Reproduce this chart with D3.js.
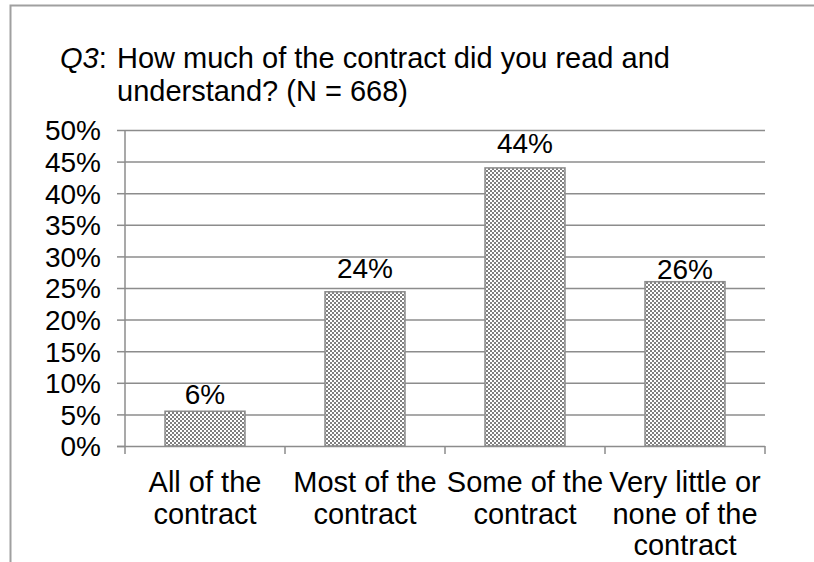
<!DOCTYPE html>
<html><head><meta charset="utf-8">
<script src="https://cdn.jsdelivr.net/npm/d3@7"></script>
<style>body{margin:0;background:#fff}svg{display:block;font-family:"Liberation Sans",Arial,sans-serif}</style>
</head><body><svg id="c" width="814" height="562"></svg>
<script>
const categories = [["All of the","contract"],["Most of the","contract"],["Some of the","contract"],["Very little or","none of the","contract"]];
const values = [5.5, 24.4, 44.0, 26.0];
const valueLabels = ["6%","24%","44%","26%"];
const yTicks = [0,5,10,15,20,25,30,35,40,45,50];

const labelDy = [7, 14, 15, 3]; // styling: gap between bar top and label baseline

const svg = d3.select("#c");
const defs = svg.append("defs");
const pat = defs.append("pattern").attr("id","chk").attr("width",4).attr("height",4).attr("patternUnits","userSpaceOnUse");
pat.append("rect").attr("width",4).attr("height",4).attr("fill","#fff");
pat.append("rect").attr("width",2).attr("height",2).attr("fill","#7f7f7f");
pat.append("rect").attr("x",2).attr("y",2).attr("width",2).attr("height",2).attr("fill","#7f7f7f");

// outer frame
svg.append("path").attr("d","M10.5,600 L10.5,5.5 L830,5.5").attr("fill","none").attr("stroke","#a0a0a0").attr("stroke-width",2);

const x0 = 125, x1 = 765, yTop = 130, yBot = 446;
const x = d3.scaleBand().domain(d3.range(categories.length)).range([x0,x1]).paddingInner(0.5).paddingOuter(0.25);
const y = d3.scaleLinear().domain([0,50]).range([yBot,yTop]);

// title
const t = svg.append("text").attr("font-size",29).attr("fill","#000");
t.append("tspan").attr("x",60).attr("y",68).attr("font-style","italic").text("Q3");
t.append("tspan").text(":");
t.append("tspan").attr("x",117).text("How much of the contract did you read and");
svg.append("text").attr("font-size",29).attr("x",117).attr("y",101).text("understand? (N = 668)");

// gridlines
svg.append("g").selectAll("line").data(yTicks.filter(d=>d>0)).join("line")
  .attr("x1",x0).attr("x2",x1).attr("y1",d=>y(d)+0.5).attr("y2",d=>y(d)+0.5)
  .attr("stroke","#8c8c8c").attr("stroke-width",1.5);

// y axis
const ya = svg.append("g").attr("transform",`translate(${x0},0)`)
  .call(d3.axisLeft(y).tickValues(yTicks).tickFormat(d=>d+"%").tickSize(8).tickPadding(16));
ya.select(".domain").attr("stroke","#8c8c8c").attr("stroke-width",1.5).attr("d",`M0,${yTop}V${yBot}`);
ya.selectAll(".tick line").attr("stroke","#8c8c8c").attr("stroke-width",1.5);
ya.selectAll(".tick text").attr("font-size",28).attr("fill","#000").attr("font-family","Liberation Sans, Arial, sans-serif").attr("dy","0.35em");

// bars
svg.append("g").selectAll("rect").data(values).join("rect")
  .attr("x",(d,i)=>x(i)).attr("width",x.bandwidth())
  .attr("y",d=>y(d)).attr("height",d=>yBot-y(d))
  .attr("fill","url(#chk)").attr("stroke","#8c8c8c").attr("stroke-width",1.5);

// x axis
const xb = svg.append("g");
xb.append("line").attr("x1",x0-8).attr("x2",x1).attr("y1",yBot+0.5).attr("y2",yBot+0.5).attr("stroke","#8c8c8c").attr("stroke-width",1.5);
const step = x.step();
xb.selectAll("line.tk").data(d3.range(categories.length+1)).join("line").attr("class","tk")
  .attr("x1",i=>x0+i*step).attr("x2",i=>x0+i*step).attr("y1",yBot).attr("y2",yBot+8)
  .attr("stroke","#8c8c8c").attr("stroke-width",1.5);

// value labels
svg.append("g").selectAll("text").data(values).join("text")
  .attr("x",(d,i)=>x(i)+x.bandwidth()/2).attr("y",(d,i)=>y(d)-labelDy[i])
  .attr("text-anchor","middle").attr("font-size",28).text((d,i)=>valueLabels[i]);

// category labels
const cl = svg.append("g").selectAll("text").data(categories).join("text")
  .attr("text-anchor","middle").attr("font-size",29);
cl.each(function(lines,i){
  d3.select(this).selectAll("tspan").data(lines).join("tspan")
    .attr("x",x(i)+x.bandwidth()/2).attr("y",(l,j)=>492+j*31.5).text(l=>l);
});
</script></body></html>
